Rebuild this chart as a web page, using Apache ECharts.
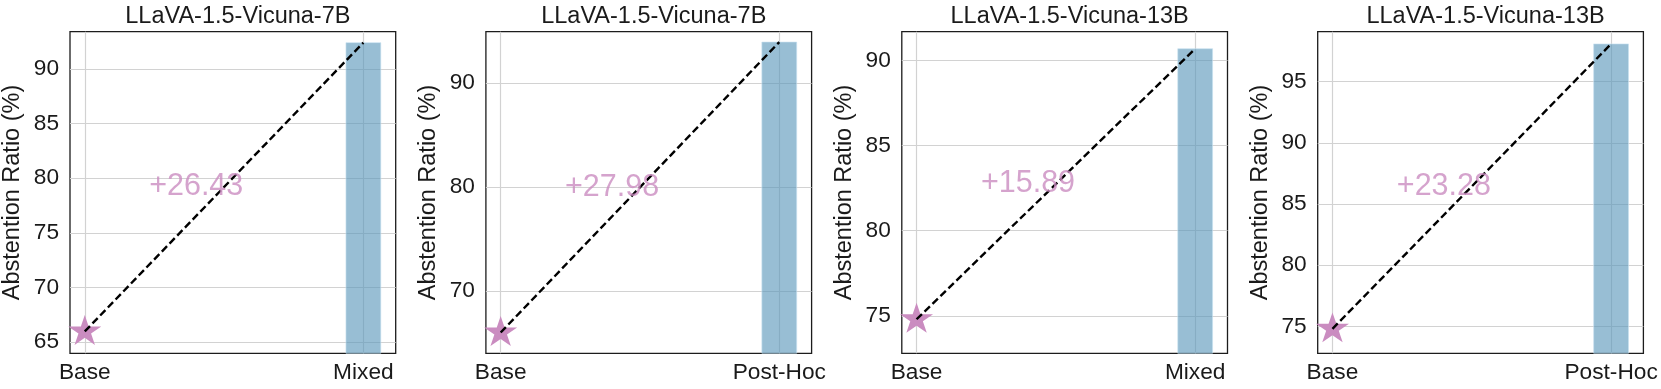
<!DOCTYPE html>
<html>
<head>
<meta charset="utf-8">
<script src="https://cdn.jsdelivr.net/npm/echarts@6/dist/echarts.min.js"></script>
<style>
  html, body { margin: 0; padding: 0; background: #ffffff; }
  #chart { width: 1661px; height: 389px; }
</style>
</head>
<body>
<div id="chart"></div>
<script>
// ---- data ----
const titles = ["LLaVA-1.5-Vicuna-7B", "LLaVA-1.5-Vicuna-7B", "LLaVA-1.5-Vicuna-13B", "LLaVA-1.5-Vicuna-13B"];
const baseLabels = ["Base", "Base", "Base", "Base"];
const methodLabels = ["Mixed", "Post-Hoc", "Mixed", "Post-Hoc"];
const baseValues = [65.98, 65.98, 74.80, 74.80];
const methodValues = [92.41, 93.96, 90.69, 98.08];
const gainLabels = ["+26.43", "+27.98", "+15.89", "+23.28"];
const yTicks = [
  [65, 70, 75, 80, 85, 90],
  [70, 80, 90],
  [75, 80, 85, 90],
  [75, 80, 85, 90, 95]
];
const yAxisName = "Abstention Ratio (%)";

// ---- style / layout ----
const FONT = '"Liberation Sans", Arial, Helvetica, sans-serif';
const PINK = '#ca8cc0';
const TEXT = '#1a1a1a';
const BAR_FILL = 'rgba(88,150,186,0.62)';
const GRID_COLOR = '#d2d2d2';
const gridLeft0 = 70, gridStep = 415.9, gridW = 325.7, gridTop = 31.7, gridH = 321.6;
const barHalf = 0.0625;
const xMin = -0.053, xMax = 1.116;
const starPath = 'path://M0 -100 L22.45 -30.9 L95.1 -30.9 L36.33 11.8 L58.8 80.9 L0 38.2 L-58.8 80.9 L-36.33 11.8 L-95.1 -30.9 L-22.45 -30.9 Z';

const chart = echarts.init(document.getElementById('chart'), null, { renderer: 'canvas' });

const grids = [], xAxes = [], yAxes = [], series = [], titleArr = [];
for (let i = 0; i < 4; i++) {
  const left = gridLeft0 + gridStep * i;
  const yMin = baseValues[i] - 2;
  const yMax = methodValues[i] + 1;
  grids.push({
    left: left, top: gridTop, width: gridW, height: gridH,
    show: true, borderColor: '#1c1c1c', borderWidth: 1.3, backgroundColor: 'transparent',
    containLabel: false
  });
  titleArr.push({
    text: titles[i], left: left + gridW / 2, top: 0, textAlign: 'center',
    textStyle: { fontFamily: FONT, fontSize: 23.5, fontWeight: 'normal', color: TEXT }
  });
  const cats = [baseLabels[i], methodLabels[i]];
  xAxes.push({
    gridIndex: i, type: 'value', min: xMin, max: xMax,
    axisLine: { show: false },
    axisTick: { show: false, customValues: [0, 1] },
    axisLabel: {
      customValues: [0, 1], margin: 8,
      formatter: (v) => cats[Math.round(v)],
      fontFamily: FONT, fontSize: 22.7, color: TEXT
    },
    splitLine: { show: true, lineStyle: { color: GRID_COLOR, width: 1.2 } }
  });
  yAxes.push({
    gridIndex: i, type: 'value', min: yMin, max: yMax,
    name: yAxisName, nameLocation: 'middle', nameGap: 45, nameRotate: 90,
    nameTextStyle: { fontFamily: FONT, fontSize: 23.5, color: TEXT },
    axisLine: { show: false },
    axisTick: { show: false, customValues: yTicks[i] },
    axisLabel: {
      customValues: yTicks[i], margin: 11,
      fontFamily: FONT, fontSize: 22.7, color: TEXT
    },
    splitLine: { show: true, lineStyle: { color: GRID_COLOR, width: 1.2 } }
  });
  // bar
  series.push({
    type: 'custom', xAxisIndex: i, yAxisIndex: i, z: 2,
    data: [[1, methodValues[i]]],
    renderItem: function (params, api) {
      const x = api.value(0), v = api.value(1);
      const p1 = api.coord([x - barHalf, v]);
      const p2 = api.coord([x + barHalf, yMin]);
      return {
        type: 'rect',
        shape: { x: p1[0], y: p1[1], width: p2[0] - p1[0], height: p2[1] - p1[1] },
        style: { fill: BAR_FILL, stroke: 'rgba(200,225,240,0.6)', lineWidth: 1 }
      };
    }
  });
  // star
  series.push({
    type: 'scatter', xAxisIndex: i, yAxisIndex: i, z: 3,
    data: [[0, baseValues[i]]],
    symbol: starPath, symbolSize: [33, 31.4], symbolKeepAspect: true, symbolOffset: [0, -1.5],
    itemStyle: { color: PINK, opacity: 1 },
    silent: true
  });
  // dashed line
  series.push({
    type: 'line', xAxisIndex: i, yAxisIndex: i, z: 4,
    data: [[0, baseValues[i]], [1, methodValues[i]]],
    symbol: 'none', silent: true,
    lineStyle: { color: '#000', width: 2.4, type: [7.5, 3.6] }
  });
  // gain text
  series.push({
    type: 'scatter', xAxisIndex: i, yAxisIndex: i, z: 5,
    data: [[0.4, (baseValues[i] + methodValues[i]) / 2]],
    symbolSize: 0, silent: true,
    label: {
      show: true, position: 'inside', formatter: gainLabels[i],
      fontFamily: FONT, fontSize: 30.5, color: PINK
    }
  });
}

chart.setOption({
  animation: false,
  backgroundColor: '#ffffff',
  title: titleArr,
  grid: grids,
  xAxis: xAxes,
  yAxis: yAxes,
  series: series
});
</script>
</body>
</html>
